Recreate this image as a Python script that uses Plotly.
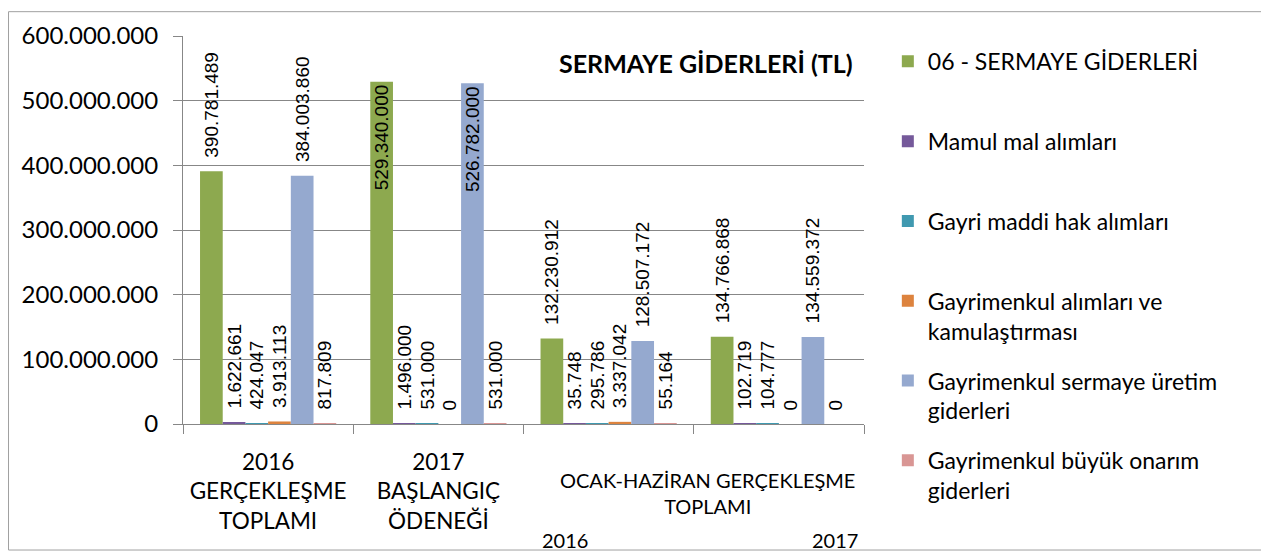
'''
    SERMAYE GİDERLERİ (TL) grouped bar chart.
'''

import plotly.graph_objects as go

categories = ['c2016', 'c2017', 'oh2016', 'oh2017']
category_labels = ['2016<br>GERÇEKLEŞME<br>TOPLAMI', '2017<br>BAŞLANGIÇ<br>ÖDENEĞİ', '', '']

series_names = [
    '06 - SERMAYE GİDERLERİ',
    'Mamul mal alımları',
    'Gayri maddi hak alımları',
    'Gayrimenkul alımları ve<br>kamulaştırması',
    'Gayrimenkul sermaye üretim<br>giderleri',
    'Gayrimenkul büyük onarım<br>giderleri',
]

sermaye = [390781489, 529340000, 132230912, 134766868]
mamul = [1622661, 1496000, 35748, 102719]
gayri_maddi = [424047, 531000, 295786, 104777]
kamulastirma = [3913113, 0, 3337042, 0]
uretim = [384003860, 526782000, 128507172, 134559372]
onarim = [817809, 531000, 55164, 0]

series_values = [sermaye, mamul, gayri_maddi, kamulastirma, uretim, onarim]
colors = ['#8DA94F', '#75599A', '#4099B0', '#DD833E', '#95A9CF', '#D99694']

y_ticks = [0, 100000000, 200000000, 300000000, 400000000, 500000000, 600000000]


def fmt(v):
    # dots as thousand separators, small lead so the label sits above the bar
    return '\u00a0\u00a0' + f'{v:,}'.replace(',', '.')


fig = go.Figure()

for name, vals, col in zip(series_names, series_values, colors):
    # labels of the bars that reach the top are kept inside the bar
    positions = ['inside' if v > 450000000 else 'outside' for v in vals]
    legend_name = name if '<br>' in name else name + '<br> '
    fig.add_trace(go.Bar(
        x=categories, y=vals, name=legend_name, legendgroup=name,
        marker=dict(color=col, line=dict(width=0)),
        text=[fmt(v) for v in vals], textposition=positions,
        insidetextanchor='end', textangle=-90, constraintext='none',
        textfont=dict(family='Liberation Sans', size=19, color='black'),
        insidetextfont=dict(color='black'), outsidetextfont=dict(color='black'),
        cliponaxis=False, hoverinfo='skip',
    ))

# the page has an 8px body margin, so the figure is 8px smaller on each side
fig.update_layout(
    width=1261, height=547,
    margin=dict(l=175, r=405, t=25, b=131),
    paper_bgcolor='white', plot_bgcolor='white',
    barmode='group', bargap=0.2, bargroupgap=0,
    separators=',.',
    font=dict(family='Lato', color='black'),
    showlegend=True,
    legend=dict(
        x=1.035, y=0.990, xanchor='left', yanchor='top',
        traceorder='grouped', tracegroupgap=17, valign='top',
        font=dict(family='Lato', size=23, color='black'),
        itemclick=False, maxheight=600,
    ),
    xaxis=dict(
        type='category', tickvals=categories, ticktext=category_labels,
        tickson='boundaries', ticks='outside', ticklen=9, tickcolor='#878787',
        showline=True, linecolor='#878787', linewidth=1, showgrid=False,
        tickfont=dict(family='Lato', size=22.5, color='black'),
        ticklabelstandoff=18,
    ),
    yaxis=dict(
        range=[0, 600000000], tickvals=y_ticks, tickformat=',d',
        ticks='outside', ticklen=9, tickcolor='#878787',
        showline=True, linecolor='#878787', linewidth=1,
        showgrid=True, gridcolor='#878787', gridwidth=1, zeroline=False,
        tickfont=dict(family='Lato', size=24, color='black'),
        ticklabelstandoff=10,
    ),
    annotations=[
        dict(text='<b>SERMAYE GİDERLERİ (TL)</b>', xref='paper', yref='paper',
             x=0.987, y=0.931, xanchor='right', yanchor='middle', showarrow=False,
             font=dict(family='Lato', size=25, color='black')),
        dict(text='OCAK-HAZİRAN GERÇEKLEŞME<br>TOPLAMI', xref='x', yref='paper',
             x=2.58, y=-0.179, xanchor='center', yanchor='middle', showarrow=False,
             font=dict(family='Lato', size=20, color='black')),
        dict(text='2016', xref='x', yref='paper', x=1.744, y=-0.299,
             xanchor='center', yanchor='middle', showarrow=False,
             font=dict(family='Lato', size=20, color='black')),
        dict(text='2017', xref='x', yref='paper', x=3.33, y=-0.299,
             xanchor='center', yanchor='middle', showarrow=False,
             font=dict(family='Lato', size=20, color='black')),
    ],
    shapes=[
        dict(type='rect', xref='paper', yref='paper',
             x0=-0.2562, x1=1.5859, y0=-0.3248, y1=1.0627,
             line=dict(color='#A0A0A0', width=1), fillcolor='rgba(0,0,0,0)', layer='below'),
    ],
)

fig.write_html('out.html')
